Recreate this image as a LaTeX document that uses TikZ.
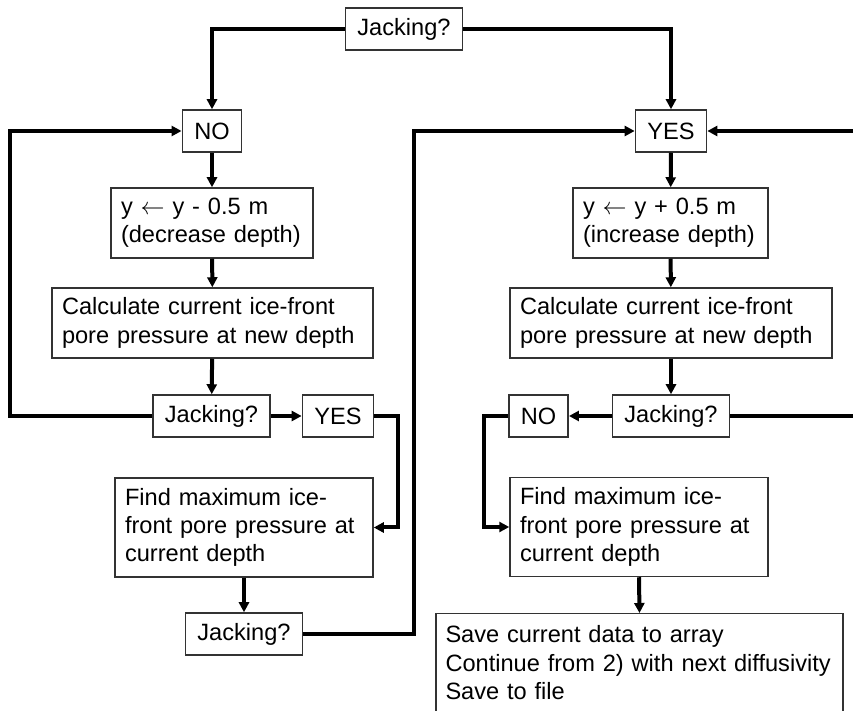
\documentclass[tikz,border=0pt]{standalone}
\usepackage{fontspec}
\setmainfont{Liberation Sans}
\usetikzlibrary{arrows.meta}
\tikzset {>={Triangle[length=5pt,width=5pt]}}

\begin{document}
\begin{tikzpicture}[x=0.5pt,y=-0.5pt,
  box/.style={draw=black!80,line width=0.75pt,inner xsep=6pt,minimum height=21pt,
    font=\fontsize{11.8}{14.2}\selectfont},
  txtbox/.style={box,align=left,inner xsep=5pt},
  flow/.style={line width=2pt,->}]
\useasboundingbox (0,0) rectangle (853,711);
\coordinate (lft) at (10,0);
\coordinate (mid) at (414,0);
\coordinate (rgt) at (853,0);
% top decision
\node[box,minimum width=58pt] (jtop) at (404,29) {Jacking?};
\node[box,minimum width=29pt] (noL) at (212,131) {NO};
\node[box,minimum width=35pt] (yesR) at (671,131) {YES};
% left branch
\node[txtbox,text width=91pt,minimum height=35pt] (decL) at (212,223) {y $\leftarrow$ y - 0.5 m\\(decrease depth)};
\node[txtbox,text width=150.5pt,minimum height=35pt] (calcL) at (212.5,323) {Calculate current ice-front\\pore pressure at new depth};
\node[box,minimum width=58pt] (jackL) at (211.5,416) {Jacking?};
\node[box,minimum width=35pt] (yesL) at (338,416) {YES};
\node[txtbox,text width=119pt,minimum height=49.5pt] (findL) at (244,527.5) {Find maximum ice-\\front pore pressure at\\current depth};
\node[box,minimum width=58pt] (jackL2) at (244,634) {Jacking?};
% right branch
\node[txtbox,text width=87.5pt,minimum height=35pt] (incR) at (670.5,223) {y $\leftarrow$ y + 0.5 m\\(increase depth)};
\node[txtbox,text width=151pt,minimum height=35pt] (calcR) at (671,323) {Calculate current ice-front\\pore pressure at new depth};
\node[box,minimum width=58pt] (jackR) at (671,416) {Jacking?};
\node[box,minimum width=29.5pt] (noR) at (538.5,416) {NO};
\node[txtbox,text width=119pt,minimum height=49.5pt] (findR) at (639,527) {Find maximum ice-\\front pore pressure at\\current depth};
\node[txtbox,text width=194pt,inner xsep=4.75pt,inner ysep=6pt,anchor=north] (save) at (639.5,613)
  {Save current data to array\\Continue from 2) with next diffusivity\\Save to file\rule[-8pt]{0pt}{8pt}};

\draw[flow] (jtop.west) -| (noL.north);
\draw[flow] (jtop.east) -| (yesR.north);
\draw[flow] (noL) -- (decL);
\draw[flow] (decL) -- (calcL);
\draw[flow] (calcL) -- (jackL);
\draw[flow] (jackL) -- (yesL);
\draw[flow] (yesL.east) -- ++(24,0) |- (findL.east);
\draw[flow] (findL.south -| jackL2) -- (jackL2);
\draw[flow] (jackL.west) -| (lft |- noL) -- (noL.west);
\draw[flow] (jackL2.east) -| (mid |- yesR) -- (yesR.west);
\draw[flow] (yesR) -- (incR);
\draw[flow] (incR) -- (calcR);
\draw[flow] (calcR) -- (jackR);
\draw[flow] (jackR) -- (noR);
\draw[flow] (noR.west) -- ++(-24,0) |- (findR.west);
\draw[flow] (findR.south) -- (save.north);
\draw[flow] (rgt |- yesR) -- (yesR.east);
\draw[line width=2pt] (jackR.east) -- (jackR.east -| rgt);
\end{tikzpicture}
\end{document}
